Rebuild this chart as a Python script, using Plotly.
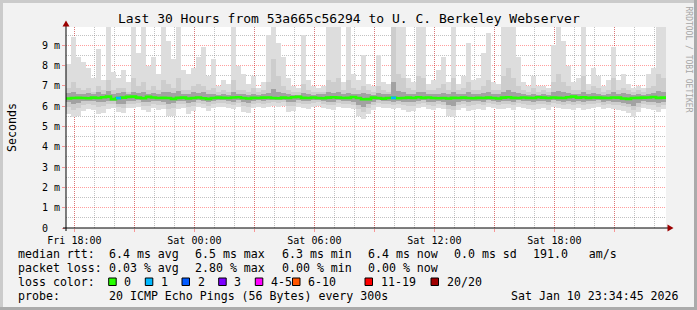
import datetime as dt
import plotly.graph_objects as go

# ---------------- data (ms) : 120 consolidated steps of 15 minutes ----------------
smoke_max = [
    8.1, 9.4, 8.4, 8.2, 7.9, 7.4, 8.8, 7.3, 10.5, 7.7, 7.4, 7.8, 7.2, 10.5, 8.6, 10.5, 8.0, 8.4, 7.6, 10.2,
    9.2, 8.3, 10.5, 7.8, 7.6, 7.9, 8.4, 8.9, 7.5, 8.3, 7.0, 7.3, 7.1, 10.5, 8.0, 7.6, 7.1, 7.5, 6.9, 7.2,
    9.5, 10.5, 9.1, 8.4, 7.4, 7.0, 6.9, 9.5, 7.3, 7.0, 6.9, 7.0, 10.5, 10.5, 10.5, 7.2, 10.5, 7.6, 7.3, 8.5,
    7.1, 7.0, 8.5, 7.2, 7.1, 10.5, 10.5, 10.5, 7.4, 7.2, 10.5, 10.5, 7.1, 7.3, 7.8, 8.4, 7.2, 9.9, 7.1, 7.5,
    9.1, 7.3, 7.4, 8.6, 9.6, 7.2, 7.1, 10.5, 10.5, 10.5, 8.4, 7.2, 7.0, 7.5, 7.0, 7.0, 6.9, 9.0, 10.5, 9.2,
    8.0, 7.2, 7.4, 10.5, 7.1, 7.9, 7.5, 7.0, 7.3, 8.9, 7.3, 7.6, 7.1, 6.9, 7.0, 6.9, 7.6, 7.9, 10.5, 10.5,
]
smoke_min = [
    5.6, 5.45, 5.5, 5.75, 5.85, 5.8, 5.6, 5.65, 5.85, 5.9, 5.7, 5.65, 5.9, 5.9, 5.95, 5.8, 5.7, 5.9, 5.8, 5.85,
    5.5, 5.5, 5.85, 5.9, 5.6, 5.75, 5.95, 5.9, 5.75, 5.9, 5.95, 5.95, 5.9, 5.85, 5.95, 5.7, 5.65, 5.9, 5.95, 5.9,
    5.95, 6.0, 5.95, 6.0, 5.7, 5.75, 5.95, 5.9, 5.85, 5.95, 6.0, 5.9, 5.85, 5.8, 5.95, 5.9, 5.9, 5.85, 5.5, 5.35,
    5.6, 5.8, 5.95, 5.9, 5.9, 5.85, 5.9, 5.8, 5.7, 5.75, 5.9, 5.95, 5.85, 5.8, 5.9, 5.85, 5.5, 5.45, 5.8, 5.9,
    5.75, 5.8, 5.85, 5.8, 5.95, 5.9, 5.85, 5.85, 5.9, 5.8, 5.95, 5.9, 5.85, 5.8, 5.85, 5.9, 5.8, 5.95, 5.9, 5.85,
    5.85, 5.8, 5.9, 5.8, 5.85, 5.9, 5.95, 5.85, 5.9, 5.85, 5.8, 5.75, 5.65, 5.45, 5.7, 5.9, 5.85, 5.8, 5.7, 5.85,
]
mid_hi = [
    6.9, 7.2, 6.9, 6.8, 6.9, 6.7, 7.0, 6.8, 7.3, 6.8, 6.9, 6.9, 6.7, 7.4, 7.0, 7.2, 6.8, 7.0, 6.8, 7.3,
    7.1, 6.9, 7.4, 6.8, 6.8, 7.0, 7.1, 7.0, 6.8, 6.9, 6.7, 6.8, 6.7, 7.3, 6.8, 6.8, 6.7, 6.9, 6.7, 6.8,
    7.2, 8.3, 7.5, 7.0, 6.8, 6.7, 6.7, 7.1, 6.8, 6.7, 6.7, 6.7, 7.3, 7.2, 7.4, 6.8, 7.3, 6.9, 6.8, 7.0,
    6.8, 6.7, 7.0, 6.8, 6.7, 10.5, 7.6, 7.4, 6.9, 6.8, 7.5, 7.4, 6.8, 6.8, 6.9, 7.1, 6.8, 7.4, 6.8, 6.9,
    7.2, 6.8, 6.8, 7.0, 7.3, 6.8, 6.8, 7.5, 7.9, 7.4, 7.0, 6.8, 6.7, 6.9, 6.7, 6.8, 6.7, 7.2, 7.6, 7.2,
    7.0, 6.8, 6.8, 7.5, 6.8, 7.0, 6.9, 6.7, 6.8, 7.4, 6.8, 6.9, 6.8, 6.7, 6.8, 6.7, 6.9, 7.0, 7.6, 7.4,
]
mid_lo = [
    5.95, 5.8, 5.9, 6.05, 6.1, 6.05, 5.95, 6.0, 6.1, 6.1, 5.95, 5.9, 6.1, 6.1, 6.15, 6.0, 6.0, 6.1, 6.05, 6.05,
    5.85, 5.9, 6.1, 6.1, 5.95, 6.0, 6.15, 6.1, 6.0, 6.1, 6.15, 6.15, 6.1, 6.05, 6.15, 6.0, 5.95, 6.1, 6.15, 6.1,
    6.15, 6.2, 6.15, 6.2, 6.0, 6.0, 6.15, 6.1, 6.1, 6.15, 6.2, 6.1, 6.05, 6.05, 6.15, 6.1, 6.1, 6.05, 5.85, 5.7,
    5.9, 6.05, 6.15, 6.1, 6.1, 6.05, 6.1, 6.05, 6.0, 6.0, 6.1, 6.15, 6.05, 6.0, 6.1, 6.05, 5.85, 5.8, 6.05, 6.1,
    6.0, 6.05, 6.1, 6.05, 6.15, 6.1, 6.05, 6.1, 6.1, 6.05, 6.15, 6.1, 6.05, 6.05, 6.1, 6.1, 6.05, 6.15, 6.1, 6.05,
    6.1, 6.05, 6.1, 6.05, 6.1, 6.1, 6.15, 6.05, 6.1, 6.05, 6.05, 6.0, 5.95, 5.8, 5.95, 6.1, 6.05, 6.05, 5.95, 6.05,
]
dark_hi = [
    6.65, 6.7, 6.6, 6.6, 6.65, 6.6, 6.7, 6.6, 6.75, 6.6, 6.65, 6.7, 6.6, 6.7, 6.65, 6.7, 6.6, 6.65, 6.6, 6.7,
    6.7, 6.65, 6.75, 6.6, 6.6, 6.7, 6.65, 6.7, 6.6, 6.6, 6.55, 6.6, 6.55, 6.7, 6.6, 6.6, 6.55, 6.6, 6.55, 6.6,
    6.65, 6.85, 6.7, 6.65, 6.6, 6.55, 6.55, 6.65, 6.6, 6.55, 6.6, 6.6, 6.7, 6.65, 6.7, 6.6, 6.65, 6.6, 6.6, 6.65,
    6.6, 6.55, 6.65, 6.6, 6.6, 7.2, 6.75, 6.7, 6.6, 6.6, 6.7, 6.7, 6.6, 6.6, 6.6, 6.65, 6.6, 6.7, 6.6, 6.6,
    6.7, 6.6, 6.6, 6.65, 6.7, 6.6, 6.6, 6.7, 6.8, 6.7, 6.65, 6.6, 6.55, 6.6, 6.55, 6.6, 6.55, 6.7, 6.75, 6.7,
    6.65, 6.6, 6.6, 6.7, 6.6, 6.65, 6.6, 6.55, 6.6, 6.7, 6.6, 6.65, 6.6, 6.55, 6.6, 6.55, 6.6, 6.65, 6.75, 6.7,
]
dark_lo = [
    6.2, 6.1, 6.15, 6.25, 6.25, 6.25, 6.2, 6.2, 6.25, 6.25, 6.1, 6.1, 6.25, 6.25, 6.3, 6.2, 6.2, 6.25, 6.25, 6.2,
    6.1, 6.15, 6.25, 6.25, 6.15, 6.2, 6.3, 6.25, 6.2, 6.25, 6.3, 6.3, 6.25, 6.2, 6.3, 6.2, 6.15, 6.25, 6.3, 6.25,
    6.3, 6.3, 6.3, 6.3, 6.2, 6.2, 6.3, 6.25, 6.25, 6.3, 6.3, 6.25, 6.2, 6.2, 6.3, 6.25, 6.25, 6.2, 6.05, 5.95,
    6.1, 6.2, 6.3, 6.25, 6.25, 6.2, 6.25, 6.2, 6.2, 6.2, 6.25, 6.3, 6.2, 6.2, 6.25, 6.2, 6.05, 6.0, 6.2, 6.25,
    6.2, 6.25, 6.25, 6.2, 6.3, 6.25, 6.2, 6.25, 6.25, 6.2, 6.3, 6.25, 6.25, 6.2, 6.25, 6.25, 6.2, 6.3, 6.25, 6.2,
    6.25, 6.2, 6.25, 6.2, 6.25, 6.25, 6.3, 6.2, 6.25, 6.2, 6.2, 6.15, 6.1, 6.0, 6.15, 6.25, 6.2, 6.2, 6.15, 6.2,
]
median = [
    6.38, 6.40, 6.41, 6.40, 6.39, 6.42, 6.40, 6.44, 6.47, 6.35, 6.40, 6.42, 6.46, 6.47, 6.42, 6.39, 6.46, 6.43, 6.40, 6.41,
    6.40, 6.36, 6.41, 6.42, 6.38, 6.40, 6.43, 6.39, 6.36, 6.40, 6.42, 6.41, 6.40, 6.43, 6.44, 6.40, 6.38, 6.41, 6.40, 6.42,
    6.43, 6.40, 6.39, 6.42, 6.40, 6.44, 6.46, 6.41, 6.40, 6.43, 6.40, 6.39, 6.42, 6.44, 6.42, 6.40, 6.41, 6.45, 6.40, 6.34,
    6.35, 6.42, 6.40, 6.37, 6.40, 6.41, 6.39, 6.40, 6.42, 6.40, 6.44, 6.41, 6.43, 6.40, 6.39, 6.40, 6.38, 6.41, 6.40, 6.42,
    6.40, 6.39, 6.41, 6.40, 6.42, 6.40, 6.38, 6.42, 6.44, 6.41, 6.40, 6.43, 6.41, 6.40, 6.44, 6.42, 6.40, 6.43, 6.41, 6.40,
    6.44, 6.47, 6.42, 6.44, 6.41, 6.43, 6.42, 6.41, 6.40, 6.43, 6.42, 6.38, 6.36, 6.40, 6.41, 6.42, 6.43, 6.45, 6.41, 6.42,
]
loss = [0] * 120
loss[10] = 1
loss[65] = 1

loss_bins = ["0", "1", "2", "3", "4-5", "6-10", "11-19", "20/20"]
loss_palette = ["#26ff00", "#00b8ff", "#0059ff", "#7e00ff", "#ff00ff", "#ff5500", "#ff0000", "#a00000"]

x_tick_times = ["2026-01-09 18:00", "2026-01-09 21:00", "2026-01-10 00:00", "2026-01-10 03:00",
                "2026-01-10 06:00", "2026-01-10 09:00", "2026-01-10 12:00", "2026-01-10 15:00",
                "2026-01-10 18:00", "2026-01-10 21:00"]
x_tick_labels = ["Fri 18:00", "", "Sat 00:00", "", "Sat 06:00", "", "Sat 12:00", "", "Sat 18:00", ""]
y_tick_vals = [0, 1, 2, 3, 4, 5, 6, 7, 8, 9]
y_tick_labels = ["0\u00a0\u00a0", "1 m", "2 m", "3 m", "4 m", "5 m", "6 m", "7 m", "8 m", "9 m"]

legend_rows = [
    ("median rtt:", ["6.4 ms avg", "6.5 ms max", "6.3 ms min", "6.4 ms now", "0.0 ms sd", "191.0\u00a0\u00a0\u00a0am/s"]),
    ("packet loss:", ["0.03 % avg", "2.80 % max", "0.00 % min", "0.00 % now"]),
]
probe_text = "20 ICMP Echo Pings (56 Bytes) every 300s"
stamp_text = "Sat Jan 10 23:34:45 2026"
title_text = "Last 30 Hours from 53a665c56294 to U. C. Berkeley Webserver"

# ---------------- geometry helpers ----------------
W, H = 697, 310
L, R, T, B = 66, 31, 27, 82
PW, PH = W - L - R, H - T - B


def px(X):
    return (X - L) / PW


def py(Y):
    return (H - B - Y) / PH


t0 = dt.datetime(2026, 1, 9, 17, 34, 45)
STEP = dt.timedelta(minutes=15)
n = len(median)
edges = [t0 + STEP * k for k in range(n + 1)]
centers = [t0 + STEP * k + STEP / 2 for k in range(n)]
width_ms = STEP.total_seconds() * 1000
hour_times = [dt.datetime(2026, 1, 9, 18) + dt.timedelta(hours=h) for h in range(30)]

MONO = "DejaVu Sans Mono"
MGRID = "rgba(255,0,0,0.38)"
GRID = "rgba(120,120,120,0.45)"

fig = go.Figure()
for lo, hi, col in [(smoke_min, smoke_max, "#dddddd"), (mid_lo, mid_hi, "#cdcdcd"), (dark_lo, dark_hi, "#a2a2a2")]:
    fig.add_trace(go.Bar(x=centers, base=lo, y=[h - l for l, h in zip(lo, hi)], width=width_ms,
                         marker=dict(color=col, line=dict(width=0)), hoverinfo="skip", showlegend=False))

fig.add_trace(go.Scatter(x=edges, y=median + [median[-1]], mode="lines",
                         line=dict(color=loss_palette[0], width=2.6, shape="hv"), hoverinfo="skip", showlegend=False))
for k, l in enumerate(loss):
    if l > 0:
        fig.add_trace(go.Scatter(x=[edges[k], edges[k + 1]], y=[median[k], median[k]], mode="lines",
                                 line=dict(color=loss_palette[l], width=2.6), hoverinfo="skip", showlegend=False))

fig.update_layout(
    width=W, height=H, margin=dict(l=L, r=R, t=T, b=B, pad=0),
    paper_bgcolor="#f2f2f2", plot_bgcolor="#ffffff",
    barmode="overlay", bargap=0, showlegend=False,
    font=dict(family=MONO, size=10, color="#000000"),
)
fig.update_xaxes(
    type="date", range=[edges[0], edges[-1]], tickmode="array", tickvals=x_tick_times, ticktext=x_tick_labels,
    ticks="outside", ticklen=3, tickcolor=MGRID, tickfont=dict(family=MONO, size=10, color="#000000"),
    showgrid=True, gridcolor=MGRID, griddash="1px,1px", gridwidth=1,
    minor=dict(tickvals=hour_times, showgrid=True, gridcolor=GRID, griddash="1px,1px", gridwidth=1, ticks=""),
    showline=False, zeroline=False, fixedrange=True,
)
fig.update_yaxes(
    range=[0, 9.9], tickmode="array", tickvals=y_tick_vals, ticktext=y_tick_labels,
    ticks="outside", ticklen=3, tickcolor=MGRID, tickfont=dict(family=MONO, size=10, color="#000000"),
    showgrid=True, gridcolor=MGRID, griddash="1px,1px", gridwidth=1,
    minor=dict(tickvals=[v + 0.5 for v in y_tick_vals], showgrid=True, gridcolor=GRID, griddash="1px,1px", gridwidth=1, ticks=""),
    showline=False, zeroline=False, fixedrange=True,
)

shapes = []
# frame
shapes.append(dict(type="rect", xref="paper", yref="paper", x0=px(0), x1=px(W), y0=py(0), y1=py(3), fillcolor="#cbcbcb", line=dict(width=0)))
shapes.append(dict(type="rect", xref="paper", yref="paper", x0=px(0), x1=px(3), y0=py(0), y1=py(H), fillcolor="#cbcbcb", line=dict(width=0)))
shapes.append(dict(type="rect", xref="paper", yref="paper", x0=px(W - 3), x1=px(W), y0=py(0), y1=py(H), fillcolor="#ababab", line=dict(width=0)))
shapes.append(dict(type="rect", xref="paper", yref="paper", x0=px(0), x1=px(W), y0=py(H - 3), y1=py(H), fillcolor="#ababab", line=dict(width=0)))
# axes with arrows
shapes.append(dict(type="line", xref="paper", yref="paper", x0=px(63), x1=px(669), y0=py(228), y1=py(228), line=dict(color="#000000", width=1), layer="above"))
shapes.append(dict(type="line", xref="paper", yref="paper", x0=px(66), x1=px(66), y0=py(231), y1=py(24), line=dict(color="#000000", width=1), layer="above"))
shapes.append(dict(type="path", xref="paper", yref="paper", layer="above", fillcolor="#9b0000", line=dict(width=0),
                   path=f"M {px(62.5)} {py(26.5)} L {px(66)} {py(20.5)} L {px(69.5)} {py(26.5)} Z"))
shapes.append(dict(type="path", xref="paper", yref="paper", layer="above", fillcolor="#9b0000", line=dict(width=0),
                   path=f"M {px(667.5)} {py(224.5)} L {px(673.5)} {py(228)} L {px(667.5)} {py(231.5)} Z"))

ann = []
ann.append(dict(text=title_text, x=px(W / 2), y=py(19), xref="paper", yref="paper", xanchor="center", yanchor="middle",
                showarrow=False, font=dict(family=MONO, size=13, color="#000")))
ann.append(dict(text="Seconds", x=px(12), y=py(128), xref="paper", yref="paper", xanchor="center", yanchor="middle",
                textangle=-90, showarrow=False, font=dict(family=MONO, size=11.6, color="#000")))
ann.append(dict(text="RRDTOOL / TOBI OETIKER", x=px(688.5), y=py(59), xref="paper", yref="paper", xanchor="center", yanchor="middle",
                textangle=90, showarrow=False, font=dict(family=MONO, size=8, color="#a6a6a6")))

LF = dict(family=MONO, size=11.6, color="#000")
row_y = [254, 268, 282, 296]
item_x = [107, 193, 280, 366, 451.5, 531]
for (label, items), Y in zip(legend_rows, row_y):
    ann.append(dict(text=label, x=px(15.5), y=py(Y), xref="paper", yref="paper", xanchor="left", yanchor="middle", showarrow=False, font=LF))
    for t, X in zip(items, item_x):
        ann.append(dict(text=t, x=px(X), y=py(Y), xref="paper", yref="paper", xanchor="left", yanchor="middle", showarrow=False, font=LF))

ann.append(dict(text="loss color:", x=px(15.5), y=py(row_y[2]), xref="paper", yref="paper", xanchor="left", yanchor="middle", showarrow=False, font=LF))
sq_x = [108.7, 145.3, 182, 218.7, 255.3, 292.5, 365, 431]
for lab, col, X in zip(loss_bins, loss_palette, sq_x):
    shapes.append(dict(type="rect", xref="paper", yref="paper", x0=px(X), x1=px(X + 7.5), y0=py(278), y1=py(285.5),
                       fillcolor=col, line=dict(color="#000000", width=1), layer="above"))
    ann.append(dict(text=lab, x=px(X + 13.5), y=py(row_y[2]), xref="paper", yref="paper", xanchor="left", yanchor="middle", showarrow=False, font=LF))

ann.append(dict(text="probe:", x=px(15.5), y=py(row_y[3]), xref="paper", yref="paper", xanchor="left", yanchor="middle", showarrow=False, font=LF))
ann.append(dict(text=probe_text, x=px(107), y=py(row_y[3]), xref="paper", yref="paper", xanchor="left", yanchor="middle", showarrow=False, font=LF))
ann.append(dict(text=stamp_text, x=px(681), y=py(row_y[3]), xref="paper", yref="paper", xanchor="right", yanchor="middle", showarrow=False, font=LF))

fig.update_layout(shapes=shapes, annotations=ann)
fig.write_html("out.html", config={"displayModeBar": False})
